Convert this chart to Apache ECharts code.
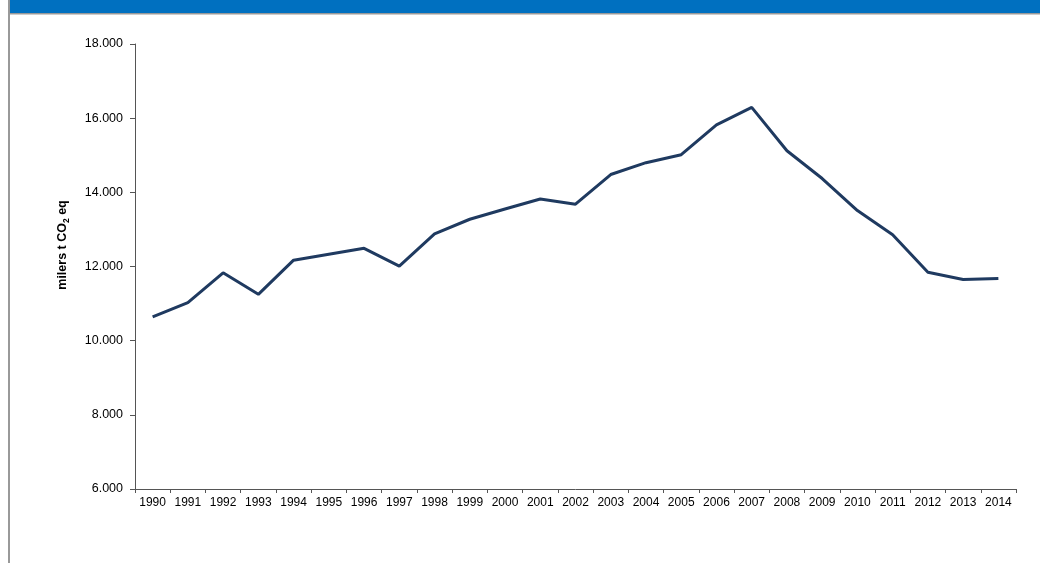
<!DOCTYPE html>
<html>
<head>
<meta charset="utf-8">
<script src="https://cdn.jsdelivr.net/npm/echarts@6/dist/echarts.min.js"></script>
<style>
html,body{margin:0;padding:0;background:#fff;}
#c{width:1040px;height:563px;}
</style>
</head>
<body>
<div id="c"></div>
<script>
var years = ['1990','1991','1992','1993','1994','1995','1996','1997','1998','1999','2000','2001','2002','2003','2004','2005','2006','2007','2008','2009','2010','2011','2012','2013','2014'];
var emissions = [10640,11025,11830,11250,12170,12330,12490,12010,12880,13274,13550,13820,13680,14480,14800,15015,15818,16290,15120,14372,13508,12857,11847,11650,11677];
var yTicks = {min: 6000, max: 18000, interval: 2000};

var chart = echarts.init(document.getElementById('c'));
var font = "'Liberation Sans', Arial, sans-serif";
chart.setOption({
  animation: false,
  backgroundColor: '#ffffff',
  grid: {left: 135, right: 24, top: 44, bottom: 74},
  xAxis: {
    type: 'category',
    data: years,
    boundaryGap: true,
    axisLine: {lineStyle: {color: '#555', width: 1}},
    axisTick: {show: true, length: 4, alignWithLabel: false, lineStyle: {color: '#555'}},
    axisLabel: {color: '#000', fontFamily: font, fontSize: 12, margin: 8, interval: 0}
  },
  yAxis: {
    type: 'value',
    min: yTicks.min, max: yTicks.max, interval: yTicks.interval,
    splitLine: {show: false},
    axisLine: {show: true, lineStyle: {color: '#555', width: 1}},
    axisTick: {show: true, length: 5, lineStyle: {color: '#555'}},
    axisLabel: {
      color: '#000', fontFamily: font, fontSize: 12.5, margin: 12,
      formatter: function (v) { return (v / 1000).toFixed(3); }
    }
  },
  series: [{
    type: 'line',
    data: emissions,
    showSymbol: false,
    symbol: 'none',
    lineStyle: {color: '#1F3A60', width: 3},
    itemStyle: {color: '#1F3A60'}
  }],
  graphic: [
    {type: 'rect', shape: {x: 10, y: 0, width: 1030, height: 13}, style: {fill: '#0070C0'}, silent: true},
    {type: 'rect', shape: {x: 10, y: 13, width: 1030, height: 1.5}, style: {fill: '#999999'}, silent: true},
    {type: 'rect', shape: {x: 8, y: 0, width: 2, height: 563}, style: {fill: '#999999'}, silent: true},
    {
      type: 'text', x: 63, y: 245, rotation: Math.PI / 2,
      style: {
        text: '{a|milers t CO}{b|2}{a| eq}',
        align: 'center', verticalAlign: 'middle',
        rich: {
          a: {fontFamily: font, fontSize: 12.5, fontWeight: 'bold', fill: '#000', verticalAlign: 'bottom'},
          b: {fontFamily: font, fontSize: 8.5, fontWeight: 'bold', fill: '#000', verticalAlign: 'bottom', padding: [0, 0, -2, 0]}
        }
      },
      silent: true
    }
  ]
});
</script>
</body>
</html>
